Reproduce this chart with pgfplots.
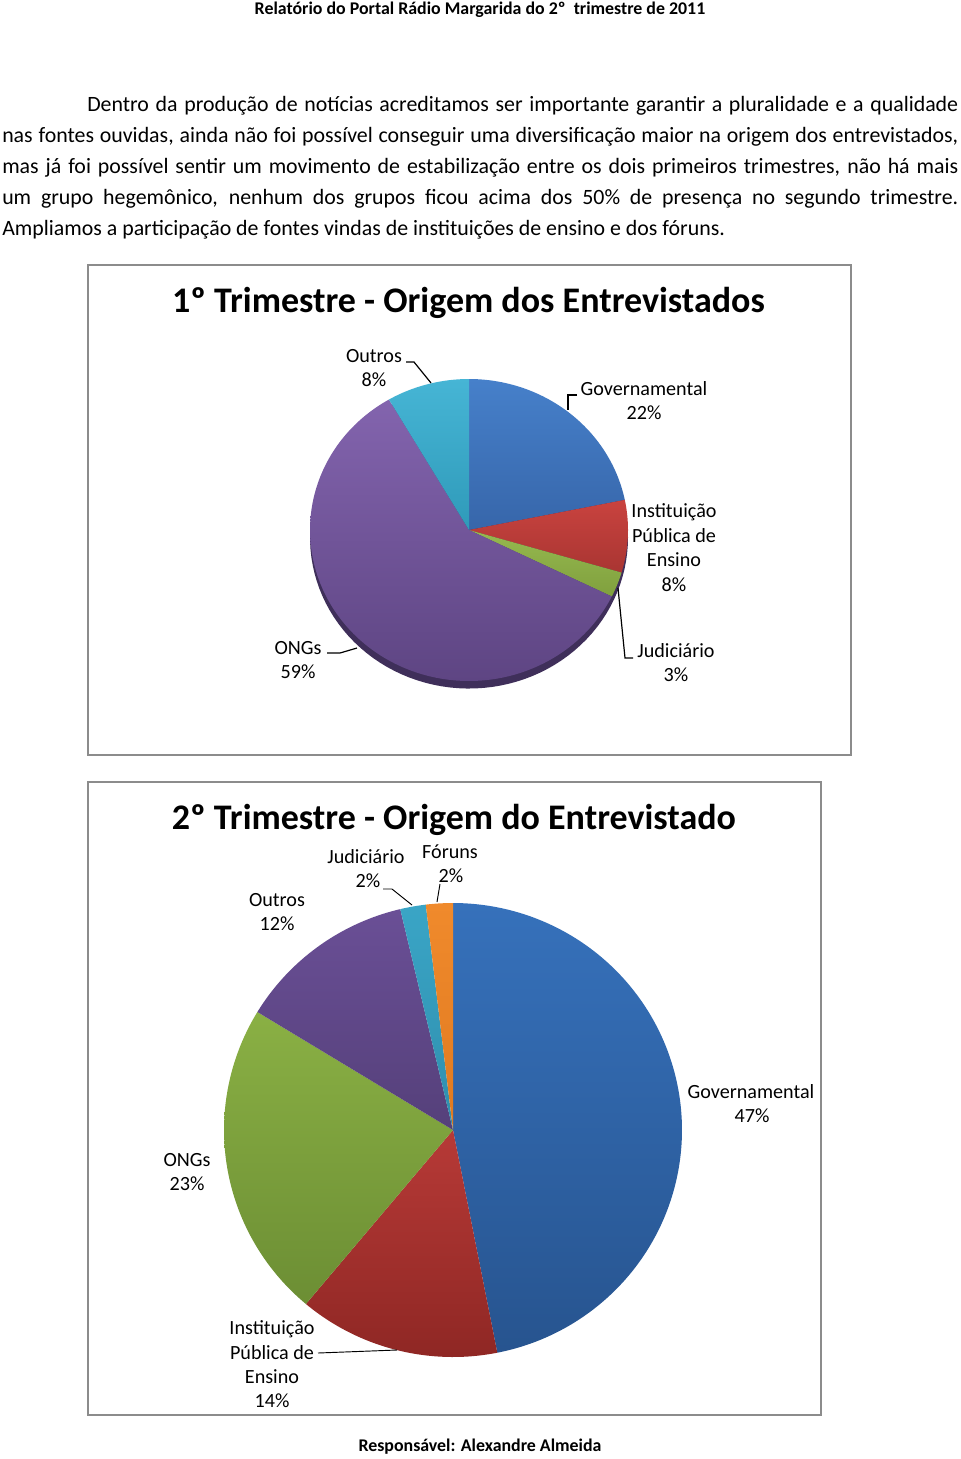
\documentclass[border=0pt]{standalone}
\usepackage{fontspec}
\setmainfont{Carlito}
\usepackage{pgfplots}
\pgfplotsset{compat=1.18}
% Pie 1 colours
\definecolor{govT}{HTML}{4680CA}\definecolor{govB}{HTML}{3766AA}
\definecolor{insT}{HTML}{C9433F}\definecolor{insB}{HTML}{A93532}
\definecolor{judT}{HTML}{96B94F}\definecolor{judB}{HTML}{80A03E}
\definecolor{ongT}{HTML}{8364AE}\definecolor{ongB}{HTML}{5E4583}
\definecolor{outT}{HTML}{46B5D5}\definecolor{outB}{HTML}{2F9AB9}
\definecolor{rim}{HTML}{3F2F5A}
% Pie 2 colours
\definecolor{gov2T}{HTML}{3671BB}\definecolor{gov2B}{HTML}{27548F}
\definecolor{ins2T}{HTML}{B73A37}\definecolor{ins2B}{HTML}{8F2724}
\definecolor{ong2T}{HTML}{8AB044}\definecolor{ong2B}{HTML}{6C8E34}
\definecolor{out2T}{HTML}{6A4F96}\definecolor{out2B}{HTML}{55407A}
\definecolor{jud2T}{HTML}{3AA5C6}\definecolor{jud2B}{HTML}{2F8EAD}
\definecolor{for2T}{HTML}{F08A2C}\definecolor{for2B}{HTML}{E07A20}
\definecolor{boxgray}{HTML}{8C8C8C}

% ---- data (percent) ----
% 1o trimestre
\def\pGovA{21.8}\def\pInsA{7.75}\def\pJudA{2.7}\def\pOngA{59.35}\def\pOutA{8.4}
% 2o trimestre
\def\pGovB{46.9}\def\pInsB{14.2}\def\pOngB{22.6}\def\pOutB{12.6}\def\pJudB{1.8}\def\pForB{1.9}

\pgfmathsetmacro{\aA}{90}
\pgfmathsetmacro{\aB}{\aA-3.6*\pGovA}
\pgfmathsetmacro{\aC}{\aB-3.6*\pInsA}
\pgfmathsetmacro{\aD}{\aC-3.6*\pJudA}
\pgfmathsetmacro{\aE}{\aD-3.6*\pOngA}
\pgfmathsetmacro{\aF}{\aE-3.6*\pOutA}

\pgfmathsetmacro{\bA}{90}
\pgfmathsetmacro{\bB}{\bA-3.6*\pGovB}
\pgfmathsetmacro{\bC}{\bB-3.6*\pInsB}
\pgfmathsetmacro{\bD}{\bC-3.6*\pOngB}
\pgfmathsetmacro{\bE}{\bD-3.6*\pOutB}
\pgfmathsetmacro{\bF}{\bE-3.6*\pJudB}
\pgfmathsetmacro{\bG}{\bF-3.6*\pForB}

\begin{document}
\begin{tikzpicture}[x=0.75pt,y=-0.75pt]
\path[fill=white] (0,0) rectangle (960,1459);
\coordinate (c1) at (469,530);
\coordinate (c2) at (453,1130);

% header
\node[font=\fontsize{13.4}{15}\selectfont\bfseries, anchor=center, inner sep=0] at (480,10)
  {Relatório do Portal Rádio Margarida do 2º\ \ trimestre de 2011};

% paragraph
\node[anchor=north west, inner sep=0, text width=717pt, align=justify,
      font=\fontsize{16.4}{23.25}\selectfont] at (2,96)
  {\hspace*{63.75pt}Dentro da produção de notícias acreditamos ser importante garantir a pluralidade e a qualidade\linebreak
   nas fontes ouvidas, ainda não foi possível conseguir uma diversificação maior na origem dos entrevistados,\linebreak
   mas já foi possível sentir um movimento de estabilização entre os dois primeiros trimestres, não há mais\linebreak
   um grupo hegemônico, nenhum dos grupos ficou acima dos 50\% de presença no segundo trimestre.\linebreak
   Ampliamos a participação de fontes vindas de instituições de ensino e dos fóruns.};

% ===== Chart 1 =====
\draw[boxgray, line width=1.2pt] (88,265) rectangle (851,755);
\node[font=\fontsize{27}{30}\selectfont\bfseries, inner sep=0] at (468.5,303)
  {1º Trimestre - Origem dos Entrevistados};

\begin{axis}[at={(c1)}, anchor=center, width=238.5pt, height=226.5pt,
  scale only axis, hide axis, xmin=-1, xmax=1, ymin=-1, ymax=1, clip=false]
  \addplot[draw=none, fill=rim, domain=0:360, samples=120] ({cos(x)},{sin(x)-0.05}) -- cycle;
  \addplot[draw=none, top color=govT, bottom color=govB, domain=\aB:\aA, samples=60] ({cos(x)},{sin(x)}) -- (axis cs:0,0) -- cycle;
  \addplot[draw=none, top color=insT, bottom color=insB, domain=\aC:\aB, samples=30] ({cos(x)},{sin(x)}) -- (axis cs:0,0) -- cycle;
  \addplot[draw=none, top color=judT, bottom color=judB, domain=\aD:\aC, samples=15] ({cos(x)},{sin(x)}) -- (axis cs:0,0) -- cycle;
  \addplot[draw=none, top color=ongT, bottom color=ongB, domain=\aE:\aD, samples=150] ({cos(x)},{sin(x)}) -- (axis cs:0,0) -- cycle;
  \addplot[draw=none, top color=outT, bottom color=outB, domain=\aF:\aE, samples=30] ({cos(x)},{sin(x)}) -- (axis cs:0,0) -- cycle;
\end{axis}

\begin{scope}[font=\fontsize{15.1}{18}\selectfont, every node/.style={inner sep=0, align=center}]
  \node at (374,356) {Outros};      \node at (374,380) {8\%};
  \node at (644,389) {Governamental}; \node at (644,413) {22\%};
  \node at (674,512) {Instituição}; \node at (674,536) {Pública de};
  \node at (674,560) {Ensino};     \node at (674,585) {8\%};
  \node at (676,651) {Judiciário}; \node at (676,675) {3\%};
  \node at (298,648) {ONGs};       \node at (298,672) {59\%};
\end{scope}
\draw[black, line width=0.9pt] (406,362) -- (414,362) -- (431,383);
\draw[black, line width=0.9pt] (577,395) -- (568,395) -- (568,410);
\draw[black, line width=0.9pt] (633,658) -- (625,658) -- (618,588);
\draw[black, line width=0.9pt] (327,653) -- (340,653) -- (357,648);

% ===== Chart 2 =====
\draw[boxgray, line width=1.2pt] (88,782) rectangle (821,1415);
\node[font=\fontsize{27}{30}\selectfont\bfseries, inner sep=0] at (454,820)
  {2º Trimestre - Origem do Entrevistado};

\begin{axis}[at={(c2)}, anchor=center, width=343.5pt, height=340.5pt,
  scale only axis, hide axis, xmin=-1, xmax=1, ymin=-1, ymax=1, clip=false]
  \addplot[draw=none, top color=gov2T, bottom color=gov2B, domain=\bB:\bA, samples=120] ({cos(x)},{sin(x)}) -- (axis cs:0,0) -- cycle;
  \addplot[draw=none, top color=ins2T, bottom color=ins2B, domain=\bC:\bB, samples=50] ({cos(x)},{sin(x)}) -- (axis cs:0,0) -- cycle;
  \addplot[draw=none, top color=ong2T, bottom color=ong2B, domain=\bD:\bC, samples=70] ({cos(x)},{sin(x)}) -- (axis cs:0,0) -- cycle;
  \addplot[draw=none, top color=out2T, bottom color=out2B, domain=\bE:\bD, samples=40] ({cos(x)},{sin(x)}) -- (axis cs:0,0) -- cycle;
  \addplot[draw=none, top color=jud2T, bottom color=jud2B, domain=\bF:\bE, samples=10] ({cos(x)},{sin(x)}) -- (axis cs:0,0) -- cycle;
  \addplot[draw=none, top color=for2T, bottom color=for2B, domain=\bG:\bF, samples=10] ({cos(x)},{sin(x)}) -- (axis cs:0,0) -- cycle;
\end{axis}

\begin{scope}[font=\fontsize{15.1}{18}\selectfont, every node/.style={inner sep=0, align=center}]
  \node at (366,857) {Judiciário};   \node at (368,881) {2\%};
  \node at (450,852) {Fóruns};       \node at (451,876) {2\%};
  \node at (277,900) {Outros};       \node at (277,924) {12\%};
  \node at (751,1092) {Governamental}; \node at (752,1116) {47\%};
  \node at (187,1160) {ONGs};        \node at (187,1184) {23\%};
  \node at (272,1329) {Instituição}; \node at (272,1353) {Pública de};
  \node at (272,1377) {Ensino};      \node at (272,1401) {14\%};
\end{scope}
\draw[black, line width=0.7pt] (383,889) -- (392,889) -- (412,905);
\draw[black, line width=0.7pt] (440,884) -- (437,902);
\draw[black, line width=0.7pt] (318,1353) -- (397,1350);

% footer
\node[font=\fontsize{13.4}{15}\selectfont\bfseries, inner sep=0] at (480,1447)
  {Responsável: Alexandre Almeida};
\end{tikzpicture}
\end{document}
